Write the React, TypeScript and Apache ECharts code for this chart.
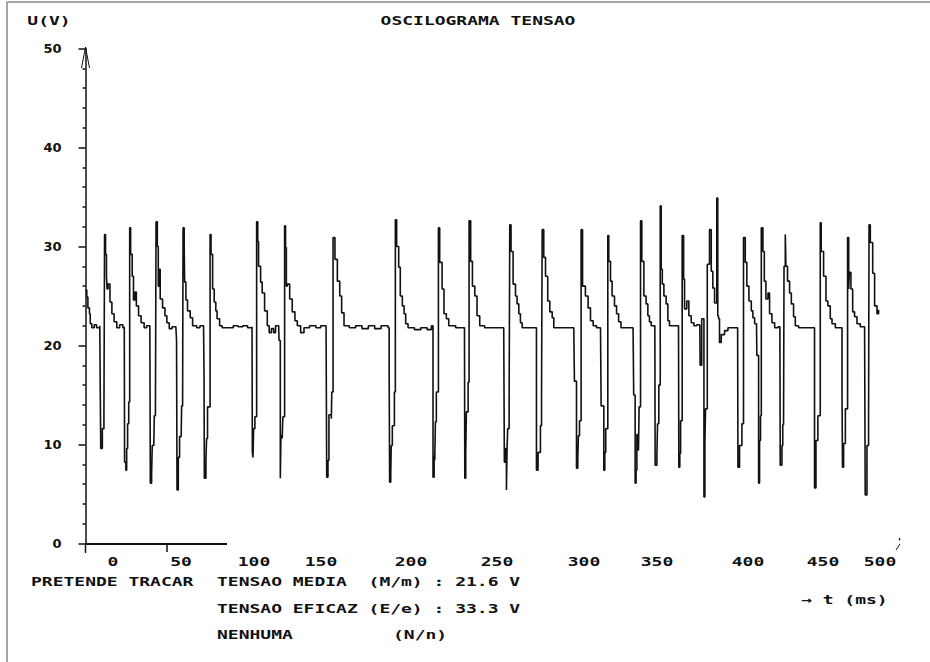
import React, { useEffect, useRef } from "react";
import * as echarts from "echarts";

// Sampled voltage trace: time in ms, voltage in V
const timeMs = [
  0.0, 0.8, 1.5, 2.5, 3.0, 4.0, 5.5, 7.0, 9.0, 9.2, 9.6, 10.6, 11.6, 12.0, 12.6, 13.2, 13.6, 14.2, 15.4, 16.6, 18.0, 19.7, 21.5, 23.5, 24.4,
  24.6, 25.4, 25.9, 26.5, 27.2, 27.8, 28.4, 29.4, 30.2, 31.2, 32.0, 33.4, 35.0, 36.9, 38.5, 40.5,
  40.8, 41.6, 42.0, 43.0, 43.3, 44.0, 44.4, 45.2, 45.8, 46.4, 47.0, 48.5, 50.0, 51.2, 52.7, 54.5, 56.9,
  57.3, 57.6, 58.4, 59.2, 60.2, 60.5, 61.1, 61.4, 62.1, 62.4, 63.2, 64.2, 65.9, 67.4, 70.0, 72.0, 74.3,
  74.6, 74.8, 75.8, 76.2, 76.8, 77.6, 78.4, 79.0, 80.0, 81.0, 82.0, 82.8, 84.4, 86.0, 90.0, 93.0, 96.0, 99.0, 102.0, 104.8,
  105.0, 105.4, 105.8, 106.6, 107.7, 108.4, 108.9, 110.2, 111.2, 112.7, 114.4, 115.6, 117.0, 118.4, 119.6, 121.6,
  121.8, 122.6, 123.0, 123.8, 124.2, 125.3, 125.9, 126.4, 127.0, 128.5, 130.1, 131.8, 133.3, 135.4, 137.5, 141.0, 145.0, 148.0, 151.4,
  151.8, 152.6, 153.2, 154.7, 155.0, 155.8, 157.0, 158.5, 160.0, 161.2, 162.7, 166.0, 170.0, 174.0, 178.0, 182.0, 186.0, 190.4,
  191.1, 191.4, 192.1, 192.4, 193.1, 194.4, 195.0, 195.8, 197.1, 198.1, 199.4, 200.5, 201.5, 203.0, 207.0, 211.0, 215.0, 217.7,
  218.7, 219.4, 219.8, 220.2, 220.8, 222.1, 222.9, 224.4, 225.6, 227.1, 228.6, 230.3, 233.0, 236.0, 238.5,
  238.7, 239.3, 239.7, 240.8, 241.4, 242.4, 243.5, 245.0, 246.4, 248.1, 251.2, 255.0, 259.0, 263.2,
  263.6, 264.3, 264.9, 265.3, 265.7, 266.6, 267.0, 267.8, 269.1, 270.6, 271.6, 272.7, 273.7, 274.8, 279.0, 283.2,
  283.8, 284.8, 286.3, 287.0, 287.4, 288.4, 289.5, 290.9, 292.2, 293.7, 294.7, 298.0, 302.0, 307.3,
  307.7, 309.0, 309.8, 310.2, 310.9, 311.9, 312.8, 314.6, 316.3, 317.8, 319.5, 321.6, 324.1,
  324.5, 326.2, 326.8, 327.4, 328.7, 329.3, 330.4, 331.4, 332.9, 334.2, 335.5, 337.0, 341.0, 344.6,
  345.0, 345.9, 346.5, 347.0, 348.0, 348.4, 349.3, 350.1, 351.4, 352.8, 353.9, 354.9, 356.0, 358.3,
  358.5, 359.6, 360.0, 360.8, 361.7, 362.3, 363.0, 364.0, 365.4, 366.5, 367.5, 370.0, 373.2,
  373.4, 374.0, 374.5, 375.5, 376.4, 377.0, 378.4, 379.7, 381.2, 382.9, 384.7, 386.6, 386.8, 387.8,
  389.2, 389.8, 390.2, 391.3, 392.7, 393.8, 394.8, 395.9, 397.3, 397.9, 398.4, 399.0, 400.1, 402.2, 404.3, 407.0, 410.4,
  410.6, 411.6, 413.1, 414.1, 415.2, 416.2, 417.5, 419.0, 420.0, 421.1, 422.3,
  422.5, 423.6, 424.2, 424.8, 425.3, 426.3, 427.2, 428.2, 429.5, 430.5, 432.0, 433.7, 435.8, 437.0,
  437.2, 438.3, 438.8, 439.3, 439.6, 440.4, 440.8, 441.8, 443.1, 444.2, 445.6, 446.7, 448.8, 452.0, 455.0, 458.2,
  458.8, 459.7, 460.9, 462.4, 463.0, 464.5, 466.0, 467.2, 468.7, 469.8, 471.9, 475.0,
  476.1, 476.4, 477.1, 478.2, 479.6, 480.3, 480.7, 481.7, 482.8, 484.0, 485.5, 487.6, 490.3,
  490.7, 491.8, 492.8, 493.1, 493.9, 495.4, 496.6, 498.1, 499.1,
];

const voltageV = [
  25.6, 24.9, 23.8, 23.2, 22.2, 21.8, 22.1, 21.8, 22.0, 17.2, 9.6, 11.6, 12.8, 31.2, 29.2, 27.0, 25.7, 26.2, 24.4, 23.2, 22.4, 21.8, 22.1, 21.8, 21.9,
  8.2, 7.4, 9.6, 12.1, 14.3, 31.9, 29.2, 27.0, 24.6, 25.4, 24.0, 23.0, 22.3, 21.8, 22.0, 21.8,
  6.1, 7.0, 9.9, 10.1, 12.9, 12.9, 32.5, 30.0, 26.0, 27.7, 24.7, 23.8, 23.0, 22.3, 21.7, 21.9, 21.8,
  20.5, 5.4, 8.7, 10.8, 10.8, 13.9, 13.9, 31.9, 30.0, 26.4, 24.6, 23.5, 22.8, 22.0, 21.8, 22.0, 21.8,
  17.2, 6.6, 8.4, 10.6, 13.8, 13.8, 31.2, 29.2, 25.7, 24.4, 23.5, 22.7, 22.0, 21.8, 21.8, 22.0, 21.9, 22.0, 21.8, 21.9,
  9.2, 8.7, 11.6, 12.8, 32.5, 30.5, 28.0, 26.4, 25.3, 23.5, 22.0, 21.3, 21.7, 21.3, 22.0, 21.8,
  20.5, 6.6, 10.9, 10.6, 12.8, 32.1, 29.9, 26.0, 26.2, 24.7, 23.4, 22.5, 22.0, 21.3, 21.8, 22.0, 21.8, 22.0, 21.9,
  6.7, 8.4, 13.0, 12.6, 15.3, 30.9, 28.7, 26.5, 25.0, 23.3, 22.0, 21.8, 22.0, 21.7, 22.0, 21.7, 22.0, 21.8,
  17.3, 6.2, 7.0, 9.9, 11.9, 15.3, 32.7, 30.0, 27.9, 25.0, 24.0, 23.2, 22.2, 21.8, 21.6, 21.8, 21.6, 22.0,
  6.7, 8.9, 8.4, 12.3, 15.3, 31.9, 28.4, 25.7, 23.2, 22.7, 22.0, 22.0, 21.8, 21.8, 21.8,
  6.6, 9.2, 13.3, 16.3, 32.6, 28.5, 26.0, 25.0, 23.0, 22.0, 21.8, 21.8, 21.8, 21.8,
  8.2, 9.6, 5.4, 9.6, 11.6, 14.3, 32.2, 29.5, 26.2, 25.0, 24.2, 23.2, 22.3, 21.8, 21.8, 21.8,
  7.4, 9.2, 11.9, 15.1, 31.7, 28.9, 27.0, 24.5, 23.4, 22.8, 21.8, 21.8, 21.8, 21.8,
  16.4, 7.6, 8.6, 10.9, 12.4, 31.7, 26.0, 25.0, 23.8, 22.5, 22.0, 21.8, 21.8,
  13.9, 7.4, 9.2, 11.6, 31.1, 28.5, 26.5, 25.0, 24.0, 23.2, 22.4, 21.8, 21.8, 21.8,
  15.0, 6.1, 7.4, 11.0, 9.4, 13.8, 32.6, 28.5, 25.0, 24.2, 23.0, 22.4, 22.0, 22.0,
  7.9, 9.0, 12.1, 16.0, 34.1, 27.7, 26.2, 25.0, 24.2, 22.5, 22.0, 22.0, 21.9,
  7.7, 9.1, 12.4, 31.1, 26.7, 23.7, 24.5, 23.0, 22.3, 22.0, 22.1, 22.0, 18.0, 22.7,
  4.7, 10.1, 13.6, 28.2, 31.7, 27.5, 25.8, 24.3, 34.9, 23.0, 22.7, 20.3, 21.1, 21.5, 21.8, 21.8, 21.8,
  7.7, 9.9, 12.1, 30.9, 28.4, 26.0, 24.5, 23.5, 22.8, 22.2, 21.8,
  19.0, 6.1, 10.4, 12.9, 31.9, 29.5, 26.5, 24.7, 25.3, 23.2, 22.3, 21.8, 21.9, 21.8,
  7.9, 9.9, 12.0, 12.1, 28.0, 31.2, 28.0, 26.5, 25.3, 24.2, 22.9, 22.0, 21.8, 21.8, 21.8, 21.8,
  5.6, 10.4, 12.9, 32.4, 29.5, 27.0, 24.5, 24.0, 22.7, 22.2, 21.8, 21.8,
  15.0, 7.7, 10.1, 13.6, 30.9, 25.7, 27.4, 25.7, 23.4, 22.9, 22.2, 21.9, 21.8,
  4.9, 9.9, 11.7, 32.2, 30.4, 27.3, 24.0, 23.2, 23.6,
];

// Time-axis tick labels
const timeTickLabels = ["0", "50", "100", "150", "200", "250", "300", "350", "400", "450", "500"];

// Read-outs printed under the plot
const meanVoltageV = 21.6;
const rmsVoltageV = 33.3;

// Layout constants (pixels)
const TIME_LABEL_X = [113, 181, 254, 321, 411, 497, 584, 657, 748, 823, 880];
const INK = "#111";
const DOS_FONT = 'bold 12px "DejaVu Sans Mono"';

function dosText(text: string, x: number, y: number, align: "left" | "center" | "right" = "left", sx = 1.5) {
  return {
    type: "text",
    x,
    y,
    scaleX: sx,
    silent: true,
    style: {
      text,
      font: DOS_FONT,
      fill: INK,
      textAlign: align,
      textVerticalAlign: "middle",
      align,
      verticalAlign: "middle",
    },
  };
}

function line(x1: number, y1: number, x2: number, y2: number, w = 1.5, color = INK) {
  return {
    type: "line",
    silent: true,
    shape: { x1, y1, x2, y2 },
    style: { stroke: color, lineWidth: w },
  };
}

export default function App() {
  const ref = useRef<HTMLDivElement>(null);

  useEffect(() => {
    if (!ref.current) return;
    const chart = echarts.init(ref.current, null, { renderer: "svg" });
    const data = timeMs.map((t, i) => [t, voltageV[i]]);

    const graphic: any[] = [
      // window frame
      line(7, 2, 930, 2, 1.5, "#888"),
      line(7, 2, 7, 662, 1.5, "#888"),
      // headings
      dosText("U(V)", 49, 21, "center"),
      dosText("OSCILOGRAMA TENSAO", 478, 21, "center"),
      // voltage-axis arrow head and extension below zero
      {
        type: "polyline",
        silent: true,
        shape: { points: [[81.5, 68], [85.5, 47], [89.5, 68]] },
        style: { stroke: INK, lineWidth: 1, fill: "none" },
      },
      line(85.5, 543.5, 85.5, 553),
      // time-axis stub with its single tick
      line(85.5, 544, 227, 544, 2),
      line(167, 544, 167, 552, 1.5),
      // small marker at the end of the time axis
      line(896, 550, 900, 544, 1),
      line(899.5, 538, 899.5, 540.5, 1.2),
      // time tick labels
      ...timeTickLabels.map((s, i) => dosText(s, TIME_LABEL_X[i], 562, "center")),
      // menu / read-outs
      dosText("PRETENDE TRACAR", 31, 582),
      dosText(`TENSAO MEDIA  (M/m) : ${meanVoltageV.toFixed(1)} V`, 217, 582),
      dosText(`TENSAO EFICAZ (E/e) : ${rmsVoltageV.toFixed(1)} V`, 217, 609),
      dosText("NENHUMA", 217, 635),
      dosText("(N/n)", 393, 635),
      dosText("\u2192 t (ms)", 801, 600, "left", 1.5),
    ];

    chart.setOption({
      animation: false,
      backgroundColor: "#ffffff",
      grid: {
        left: 85.5,
        top: 48.5,
        width: 794.5,
        height: 495,
        containLabel: false,
        outerBoundsMode: "none",
      },
      xAxis: {
        type: "value",
        min: 0,
        max: 500,
        show: false,
      },
      yAxis: {
        type: "value",
        min: 0,
        max: 50,
        interval: 10,
        axisLine: { show: true, lineStyle: { color: INK, width: 1.5 } },
        axisTick: { show: true, inside: false, length: 7, lineStyle: { color: INK, width: 1.5 } },
        minorTick: { show: true, splitNumber: 5, length: 3, lineStyle: { color: INK, width: 1.5 } },
        axisLabel: {
          color: INK,
          fontFamily: "DejaVu Sans",
          fontWeight: "bold",
          fontSize: 13,
          margin: 24,
        },
        splitLine: { show: false },
      },
      series: [
        {
          type: "line",
          data,
          step: "end",
          symbol: "none",
          showSymbol: false,
          clip: false,
          lineStyle: { color: INK, width: 1.6 },
        },
      ],
      graphic,
    });

    return () => chart.dispose();
  }, []);

  return (
    <div
      ref={ref}
      style={{ position: "absolute", left: 0, top: 0, width: 930, height: 662, background: "#fff" }}
    />
  );
}
